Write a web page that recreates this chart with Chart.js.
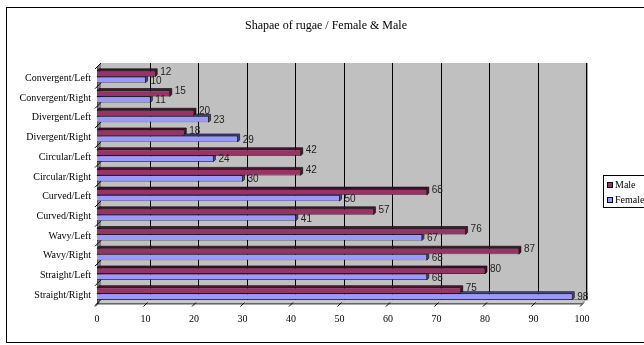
<!DOCTYPE html>
<html>
<head>
<meta charset="utf-8">
<script src="https://cdn.jsdelivr.net/npm/chart.js@4"></script>
<style>
  html, body { margin: 0; padding: 0; background: #fff; }
  #wrap { position: relative; width: 644px; height: 345px; }
</style>
</head>
<body>
<div id="wrap"><canvas id="c" width="644" height="345"></canvas></div>
<script>
// Rugae shapes by side
const categories = [
  'Convergent/Left', 'Convergent/Right', 'Divergent/Left', 'Divergent/Right',
  'Circular/Left', 'Circular/Right', 'Curved/Left', 'Curved/Right',
  'Wavy/Left', 'Wavy/Right', 'Straight/Left', 'Straight/Right'
];
const maleValues   = [12, 15, 20, 18, 42, 42, 68, 57, 76, 87, 80, 75];
const femaleValues = [10, 11, 23, 29, 24, 30, 50, 41, 67, 68, 68, 98];
const xTicks = [0, 10, 20, 30, 40, 50, 60, 70, 80, 90, 100];

const SERIF = '"Liberation Serif", "Times New Roman", serif';
const SANS = '"Liberation Sans", Arial, sans-serif';
const DEPTH = 4;      // wall depth offset
const BAR_DEPTH = 2;  // bar depth offset

const darker = { '#993366': '#4a1830', '#9999FF': '#4a4a8a' };

// Frame, walls, back-wall gridlines and floor ticks
const wallsPlugin = {
  id: 'walls',
  beforeDraw(chart) {
    const ctx = chart.ctx;
    const a = chart.chartArea;
    const xs = chart.scales.x;
    ctx.save();
    // outer frame
    ctx.strokeStyle = '#000';
    ctx.lineWidth = 1;
    ctx.strokeRect(6.5, 7.5, 700, 335);
    // title
    ctx.fillStyle = '#000';
    ctx.font = '12px ' + SERIF;
    ctx.textAlign = 'center';
    ctx.textBaseline = 'middle';
    ctx.fillText('Shapae of rugae / Female & Male', 326, 26);

    const L = a.left, R = a.right, T = a.top, B = a.bottom;
    // back wall
    ctx.fillStyle = '#c0c0c0';
    ctx.fillRect(L + DEPTH, T - DEPTH, R - L, B - T);
    // right edge of wall
    ctx.fillStyle = '#a0a0a0';
    ctx.fillRect(R + DEPTH, T - DEPTH, 2, B - T + 1);
    // left side wall
    ctx.fillStyle = '#808080';
    ctx.beginPath();
    ctx.moveTo(L, T); ctx.lineTo(L + DEPTH, T - DEPTH);
    ctx.lineTo(L + DEPTH, B - DEPTH); ctx.lineTo(L, B);
    ctx.closePath(); ctx.fill();
    // floor strip
    ctx.fillStyle = '#c8c8c8';
    ctx.beginPath();
    ctx.moveTo(L, B); ctx.lineTo(L + DEPTH, B - DEPTH);
    ctx.lineTo(R + DEPTH, B - DEPTH); ctx.lineTo(R, B);
    ctx.closePath(); ctx.fill();
    ctx.strokeStyle = '#7a7a7a';
    ctx.stroke();

    // gridlines on back wall
    ctx.strokeStyle = '#000';
    ctx.lineWidth = 1;
    xs.ticks.forEach(t => {
      if (t.value === 0) return;
      const px = Math.round(xs.getPixelForValue(t.value)) + DEPTH + 0.5;
      ctx.beginPath();
      ctx.moveTo(px, T - DEPTH);
      ctx.lineTo(px, B - DEPTH);
      ctx.stroke();
    });
    // front axes
    ctx.strokeStyle = '#555';
    ctx.beginPath();
    ctx.moveTo(L + 0.5, T); ctx.lineTo(L + 0.5, B + 0.5); ctx.lineTo(R, B + 0.5);
    ctx.stroke();
    // slanted ticks under the x axis
    ctx.strokeStyle = '#000';
    xs.ticks.forEach(t => {
      const px = xs.getPixelForValue(t.value);
      ctx.beginPath();
      ctx.moveTo(px + 2, B - 1);
      ctx.lineTo(px - 2, B + 3);
      ctx.stroke();
    });
    // category ticks on the side wall
    const step = (B - T) / categories.length;
    for (let i = 0; i <= categories.length; i++) {
      const py = T + i * step;
      ctx.beginPath();
      ctx.moveTo(L + DEPTH, py - DEPTH);
      ctx.lineTo(L - 2, py + 2);
      ctx.stroke();
    }
    ctx.restore();
  },
  // depth faces of each bar, painted before the fronts
  beforeDatasetsDraw(chart) {
    const ctx = chart.ctx;
    ctx.save();
    chart.data.datasets.forEach((ds, di) => {
      const meta = chart.getDatasetMeta(di);
      meta.data.forEach(el => {
        const x0 = el.base, x1 = el.x;
        const top = el.y - el.height / 2, bot = el.y + el.height / 2;
        ctx.fillStyle = darker[ds.backgroundColor];
        ctx.strokeStyle = '#000';
        ctx.lineWidth = 0.6;
        ctx.beginPath();
        ctx.moveTo(x0, top); ctx.lineTo(x0 + BAR_DEPTH, top - BAR_DEPTH);
        ctx.lineTo(x1 + BAR_DEPTH, top - BAR_DEPTH); ctx.lineTo(x1 + BAR_DEPTH, bot - BAR_DEPTH);
        ctx.lineTo(x1, bot); ctx.lineTo(x1, top);
        ctx.closePath();
        ctx.fill(); ctx.stroke();
      });
    });
    ctx.restore();
  },
  afterDatasetsDraw(chart) {
    const ctx = chart.ctx;
    ctx.save();
    // value labels
    ctx.font = '10px ' + SANS;
    ctx.fillStyle = '#222';
    ctx.textAlign = 'left';
    ctx.textBaseline = 'middle';
    chart.data.datasets.forEach((ds, di) => {
      const meta = chart.getDatasetMeta(di);
      meta.data.forEach((el, i) => {
        const dy = di === 0 ? -2 : 1;
        ctx.fillText(String(ds.data[i]), el.x + BAR_DEPTH + 3, el.y + dy);
      });
    });
    // legend
    ctx.strokeStyle = '#000';
    ctx.lineWidth = 1;
    ctx.strokeRect(603.5, 175.5, 60, 32);
    ctx.font = '10px ' + SERIF;
    ctx.fillStyle = '#000';
    chart.data.datasets.forEach((ds, di) => {
      const cy = 185 + di * 15;
      ctx.fillStyle = ds.backgroundColor;
      ctx.fillRect(607, cy - 3, 6, 6);
      ctx.strokeStyle = '#000';
      ctx.strokeRect(607.5, cy - 2.5, 5, 5);
      ctx.fillStyle = '#000';
      ctx.fillText(ds.label, 615, cy);
    });
    ctx.restore();
  }
};

new Chart(document.getElementById('c'), {
  type: 'bar',
  data: {
    labels: categories,
    datasets: [
      { label: 'Male', data: maleValues, backgroundColor: '#993366',
        borderColor: '#000', borderWidth: 0.6 },
      { label: 'Female', data: femaleValues, backgroundColor: '#9999FF',
        borderColor: '#000', borderWidth: 0.6 }
    ]
  },
  options: {
    indexAxis: 'y',
    responsive: false,
    animation: false,
    devicePixelRatio: 1,
    layout: { padding: { left: 0, right: 62, top: 67, bottom: 0 } },
    datasets: { bar: { categoryPercentage: 0.61, barPercentage: 1.0 } },
    plugins: {
      legend: { display: false },
      title: { display: false },
      tooltip: { enabled: false }
    },
    scales: {
      x: {
        type: 'linear',
        min: 0, max: 100,
        afterBuildTicks(scale) { scale.ticks = xTicks.map(v => ({ value: v })); },
        grid: { display: false, drawTicks: false },
        border: { display: false },
        ticks: { font: { family: SERIF, size: 10 }, color: '#000', padding: 10, maxRotation: 0 },
        afterFit(scale) { scale.height = 345 - 303.5; }
      },
      y: {
        grid: { display: false, drawTicks: false },
        border: { display: false },
        ticks: { font: { family: SERIF, size: 10 }, color: '#000', padding: 6, autoSkip: false, labelOffset: 1.5 },
        afterFit(scale) { scale.width = 97; }
      }
    }
  },
  plugins: [wallsPlugin]
});
</script>
</body>
</html>
